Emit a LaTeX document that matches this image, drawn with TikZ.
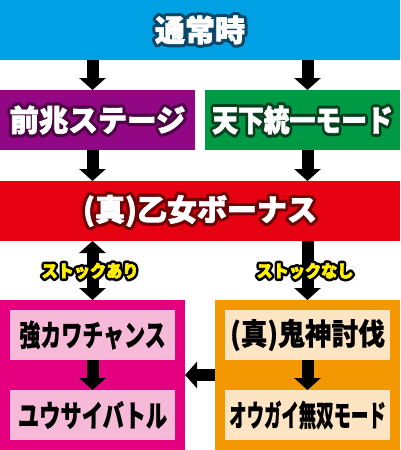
\documentclass[tikz,border=0pt]{standalone}
\usepackage{fontspec}
\usepackage{graphicx}
\newfontfamily\jp{Noto Sans CJK JP}[BoldFeatures={FakeBold=0.5}]
\newfontfamily\jpo{Noto Sans CJK JP}
\usetikzlibrary{arrows.meta}
\definecolor{cBlue}{HTML}{00A0E4}
\definecolor{cPurple}{HTML}{920783}
\definecolor{cGreen}{HTML}{009A44}
\definecolor{cRed}{HTML}{E50012}
\definecolor{cMag}{HTML}{E4007F}
\definecolor{cPink}{HTML}{F7B9D8}
\definecolor{cOrange}{HTML}{F39800}
\definecolor{cCream}{HTML}{FDE4C2}
\definecolor{cYellow}{HTML}{FFF000}
% outlined text: #1 outline rgb (pdf numbers), #2 fill colour, #3 stroke width (bp), #4 xscale, #5 text
\newcommand\otl[5]{%
  \begingroup
  \setbox0=\hbox{\scalebox{#4}[1]{#5}}%
  \leavevmode
  \rlap{\special{pdf:literal direct 1 Tr #3 w 1 j 1 J #1 RG}\copy0\special{pdf:literal direct 0 Tr}}%
  {\color{#2}\special{pdf:literal direct 2 Tr 0.7 w 1 j}\copy0\special{pdf:literal direct 0 Tr}}%
  \endgroup}
\newcommand\sq[2]{\scalebox{#1}[1]{#2}}
\begin{document}
\begin{tikzpicture}[x=1pt,y=-1pt,
  box/.style={inner sep=0pt, outer sep=0pt, draw=none,
    font=\jp\bfseries\fontsize{30}{30}\selectfont},
  obox/.style={box, font=\jpo\bfseries\fontsize{30}{30}\selectfont},
  lab/.style={inner sep=0pt, font=\jpo\bfseries\fontsize{17}{17}\selectfont},
  arr/.style={line width=12pt, -{Triangle[width=26pt,length=12pt]}},
  darr/.style={line width=12pt, {Triangle[width=26pt,length=12pt]}-{Triangle[width=26pt,length=12pt]}}]
\useasboundingbox (0,0) rectangle (400,450);
\fill[white] (0,0) rectangle (400,450);
\node[obox, fill=cBlue, minimum width=400pt, minimum height=60pt] (title) at (200,30)
  {\otl{0.04 0.28 0.41}{white}{7}{1}{通常時}};
\node[obox, fill=cPurple, minimum width=195pt, minimum height=60pt] (pre) at (97.5,120)
  {\otl{0.29 0.02 0.26}{white}{7}{0.98}{前兆ステージ}};
\node[obox, fill=cGreen, minimum width=195pt, minimum height=60pt] (tenka) at (302.5,120)
  {\otl{0.03 0.25 0.12}{white}{7}{0.86}{天下統一モード}};
\node[obox, fill=cRed, minimum width=400pt, minimum height=60pt] (bonus) at (200,211)
  {\otl{0.43 0.01 0.02}{white}{7}{1.0}{(真)乙女ボーナス}};
\node[box, fill=cMag, minimum width=185pt, minimum height=150pt] (mag) at (92.5,375) {};
\node[box, fill=cOrange, minimum width=185pt, minimum height=150pt] (ora) at (307.5,375) {};
\node[box, fill=cPink, minimum width=165pt, minimum height=50pt] (p1) at (92.5,335) {\sq{0.7}{強カワチャンス}};
\node[box, fill=cPink, minimum width=165pt, minimum height=50pt] (p2) at (92.5,415) {\sq{0.71}{ユウサイバトル}};
\node[box, fill=cCream, minimum width=165pt, minimum height=50pt] (o1) at (307.5,335) {\sq{0.89}{(真)鬼神討伐}};
\node[box, fill=cCream, minimum width=165pt, minimum height=50pt] (o2) at (307.5,415) {\sq{0.58}{オウガイ無双モード}};
\draw[arr] (title.south -| mag.north) -- (pre.north -| mag.north);
\draw[arr] (title.south -| ora.north) -- (tenka.north -| ora.north);
\draw[arr] (pre.south -| mag.north) -- (bonus.north -| mag.north);
\draw[arr] (tenka.south -| ora.north) -- (bonus.north -| ora.north);
\draw[darr] (bonus.south -| mag.north) -- (mag.north);
\draw[arr] (bonus.south -| ora.north) -- (ora.north);
\draw[arr] (p1.south) -- (p2.north);
\draw[arr] (o1.south) -- (o2.north);
\draw[arr] (ora.west) -- (mag.east);
\node[lab] (l1) at (90,271) {\otl{0 0 0}{cYellow}{6}{0.95}{ストックあり}};
\node[lab] (l2) at (305,271) {\otl{0 0 0}{cYellow}{6}{0.95}{ストックなし}};
\end{tikzpicture}
\end{document}
